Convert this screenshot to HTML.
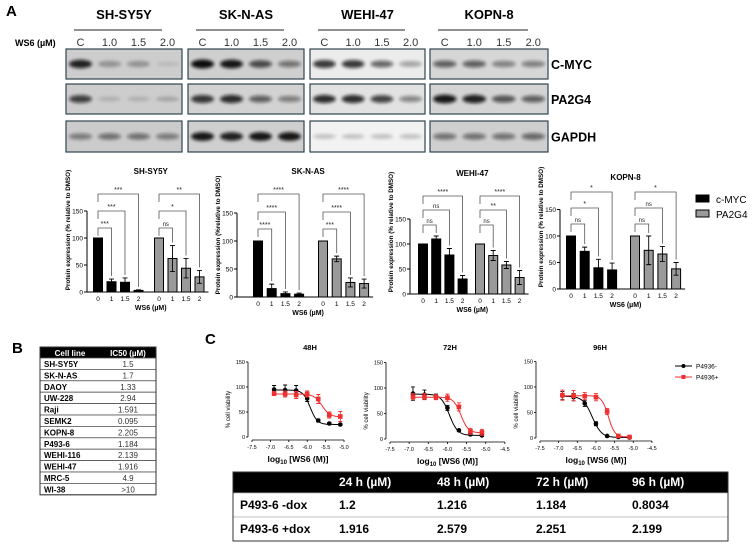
<!DOCTYPE html>
<html><head><meta charset="utf-8">
<style>
html,body{margin:0;padding:0;background:#fff;}
svg{display:block;font-family:"Liberation Sans",Arial,sans-serif;}
</style></head>
<body>
<svg id="fig" width="755" height="548" viewBox="0 0 755 548" xmlns="http://www.w3.org/2000/svg">
<defs>
<filter id="blur1" x="-20%" y="-100%" width="140%" height="300%"><feGaussianBlur stdDeviation="1.6"/></filter>
</defs>
<g id="panelA">
<text x="6" y="16" font-size="15" font-weight="bold">A</text>
<text x="15" y="46" font-size="9" font-weight="bold">WS6 (µM)</text>
</g>
<g id="blots"></g>
<g id="bars"></g>
<g id="panelB">
<text x="12" y="353" font-size="15" font-weight="bold">B</text>
</g>
<g id="panelC">
<text x="205" y="344" font-size="15" font-weight="bold">C</text>
</g>
</svg>
<script>
const NS="http://www.w3.org/2000/svg";
function mk(parent,tag,attrs,text){const e=document.createElementNS(NS,tag);for(const k in attrs)e.setAttribute(k,attrs[k]);if(text!==undefined)e.textContent=text;parent.appendChild(e);return e;}

// ---------- Western blots ----------
const blotNames=["SH-SY5Y","SK-N-AS","WEHI-47","KOPN-8"];
const laneLabels=["C","1.0","1.5","2.0"];
const proteinLabels=["C-MYC","PA2G4","GAPDH"];
const blotBoxesX=[[66,182],[188,304],[310,425],[430,548]];
const blotRowsY=[[49,79],[84,114],[121,152]];
const blotBg=[["#cdcdcd","#cdcdcd","#cbcbcb"],["#cfcfcf","#d2d2d2","#cfcfcf"],["#ececec","#e2e2e2","#f2f2f2"],["#d6d6d6","#d4d4d4","#cfcfcf"]];
const bandDark=[
 [[0.9,0.35,0.35,0.1],[0.75,0.15,0.15,0.2],[0.45,0.5,0.5,0.45]],
 [[1,0.95,0.7,0.5],[0.8,0.85,0.6,0.45],[0.95,0.9,0.95,0.95]],
 [[0.8,0.8,0.6,0.35],[0.85,0.85,0.75,0.45],[0.2,0.2,0.2,0.2]],
 [[0.6,0.6,0.45,0.45],[0.95,0.9,0.65,0.6],[0.5,0.5,0.5,0.55]]];
const blots=document.getElementById('blots');
blotNames.forEach((n,b)=>{
  const [x1,x2]=blotBoxesX[b];const w=x2-x1;
  const hdr=mk(blots,'text',{x:(x1+x2)/2,y:19,'font-size':13,'font-weight':'bold','text-anchor':'middle'},n);
  
  
  const ln=mk(blots,'line',{x1:x1+8,x2:x2-20,y1:30,y2:30,stroke:'#222','stroke-width':1});
  
  
  laneLabels.forEach((l,i)=>{
    const t=mk(blots,'text',{x:x1+(i+0.5)*w/4,y:46,'font-size':11,'text-anchor':'middle',fill:'#333'},l);
    
    
  });
  blotRowsY.forEach(([y1,y2],r)=>{
    const box=mk(blots,'rect',{x:x1,y:y1,width:w,height:y2-y1,fill:blotBg[b][r],stroke:'#2f4650','stroke-width':1.2});
    
    
    for(let i=0;i<4;i++){
      const d=bandDark[b][r][i];
      const cx=x1+(i+0.5)*w/4, cy=(y1+y2)/2;
      const band=mk(blots,'ellipse',{cx:cx,cy:cy,rx:w/8-3,ry:2+d*2.5,fill:'#111','fill-opacity':d,filter:'url(#blur1)'});
      
      
    }
  });
});
proteinLabels.forEach((p,r)=>{
  const t=mk(blots,'text',{x:551,y:(blotRowsY[r][0]+blotRowsY[r][1])/2+5,'font-size':12.5,'font-weight':'bold'},p);
  
  
});

// ---------- Bar charts ----------
const barTitles=["SH-SY5Y","SK-N-AS","WEHI-47","KOPN-8"];
const doseLabels=["0","1","1.5","2"];
const mycValues=[[100,19,18,3],[100,15,6,5],[100,110,78,30],[100,71,40,36]];
const mycErrors=[[0,5,8,1],[0,8,3,2],[0,6,13,7],[0,8,16,13]];
const pa2g4Values=[[100,62,44,28],[100,68,26,24],[100,77,58,33],[100,73,66,38]];
const pa2g4Errors=[[0,24,18,12],[0,5,8,8],[0,10,7,14],[0,27,14,12]];
const sigMyc=[["***","***","***"],["****","****","****"],["ns","ns","****"],["ns","*","*"]];
const sigPa=[["ns","*","**"],["***","****","****"],["ns","**","****"],["ns","ns","*"]];
const yTicks=[0,50,100,150];
const yTitles=["Protein expression (% relative to DMSO)","Protein expression (%relative to DMSO)","Protein expression (% relative to DMSO)","Protein expression (% relative to DMSO)"];
const chartAxisX=[87,237,410,560];
const chartY0=[292,297,294,289];
const chartPx50=[27,28,25,26.5];
const chartG1X=[98,258,423,571];
const chartG2X=[159,323,480,635];
const barStep=[13.5,13.7,13.2,13.7];
const titleY=[174,174,176,180];
const bracketY=[[228,211,194],[229,212,194],[225,210,196],[224,208,192]];
const barsG=document.getElementById('bars');
barTitles.forEach((name,c)=>{
  const g=mk(barsG,'g',{});
  
  
  const ax=chartAxisX[c],y0=chartY0[c];
  const yS=v=>y0-v/50*chartPx50[c];
  const xS=(grp,i)=>(grp?chartG2X[c]:chartG1X[c])+i*barStep[c];
  const xEnd=xS(1,3)+9;
  const tt=mk(g,'text',{x:(ax+xEnd)/2+3,y:titleY[c],'font-size':8,'font-weight':'bold','text-anchor':'middle'},name);
  
  
  const ya=mk(g,'line',{x1:ax,x2:ax,y1:yS(150),y2:y0,stroke:'#000','stroke-width':1});
  
  
  const xa=mk(g,'line',{x1:ax,x2:xEnd,y1:y0,y2:y0,stroke:'#000','stroke-width':1});
  
  
  yTicks.forEach(t=>{
    const tk=mk(g,'line',{x1:ax-3,x2:ax,y1:yS(t),y2:yS(t),stroke:'#000'});
    
    
    const tl=mk(g,'text',{x:ax-4,y:yS(t)+2.5,'font-size':6.5,'text-anchor':'end'},t);
    
    
  });
  const yt=mk(g,'text',{x:0,y:0,'font-size':6.3,'font-weight':'bold','text-anchor':'middle',transform:`translate(${ax-17},${y0-62}) rotate(-90)`},yTitles[c]);
  
  
  const xt=mk(g,'text',{x:(ax+xEnd)/2+3,y:y0+18,'font-size':7,'font-weight':'bold','text-anchor':'middle'},'WS6 (µM)');
  
  
  [[mycValues,mycErrors,'#000','myc',sigMyc],[pa2g4Values,pa2g4Errors,'#9a9a9a','pa2g4',sigPa]].forEach(([vals,errs,fill,key,sig],grp)=>{
    for(let i=0;i<4;i++){
      const v=vals[c][i],e=errs[c][i],cx=xS(grp,i);
      const r=mk(g,'rect',{x:cx-4.5,y:yS(v),width:9,height:y0-yS(v),fill:fill,stroke:'#000','stroke-width':1});
      
      
      if(e>0){
        const eb=mk(g,'path',{d:`M${cx},${yS(v-e)}V${yS(v+e)}M${cx-2.5},${yS(v+e)}H${cx+2.5}M${cx-2.5},${yS(v-e)}H${cx+2.5}`,stroke:'#000','stroke-width':0.9,fill:'none'});
        
        
      }
      const tl=mk(g,'text',{x:cx,y:y0+9,'font-size':6.5,'text-anchor':'middle'},doseLabels[i]);
      
      
    }
    for(let k=0;k<3;k++){
      const by=bracketY[c][k];const xa0=xS(grp,0),xb=xS(grp,k+1);
      const top=vals[c][k+1]+errs[c][k+1];
      const br=mk(g,'path',{d:`M${xa0},${Math.min(yS(104),by+8)}V${by}H${xb}V${yS(top)-3}`,stroke:'#555','stroke-width':0.8,fill:'none'});
      
      
      const st=mk(g,'text',{x:(xa0+xb)/2,y:by-2,'font-size':sig[c][k]==='ns'?6:7,'text-anchor':'middle',fill:'#222'},sig[c][k]);
      
      
    }
  });
});
const legendNames=["c-MYC","PA2G4"];
const legendFills=["#000","#9a9a9a"];
legendNames.forEach((n,i)=>{
  const y=199+i*15;
  const r=mk(barsG,'rect',{x:696,y:y-4,width:13,height:7,fill:legendFills[i],stroke:'#000','stroke-width':1});
  
  
  const t=mk(barsG,'text',{x:716,y:y+4,'font-size':10},n);
  
  
});

// ---------- Table B ----------
const cellLines=["SH-SY5Y","SK-N-AS","DAOY","UW-228","Raji","SEMK2","KOPN-8","P493-6","WEHI-116","WEHI-47","MRC-5","WI-38"];
const ic50s=["1.5","1.7","1.33","2.94","1.591","0.095","2.205","1.184","2.139","1.916","4.9",">10"];
const pB=document.getElementById('panelB');
const tx1=40,tx2=156,tDiv=100,tY=347,hH=11,rH=11.4;
const hb=mk(pB,'rect',{x:tx1,y:tY,width:tx2-tx1,height:hH,fill:'#000'});


[["Cell line",(tx1+tDiv)/2],["IC50 (µM)",(tDiv+tx2)/2]].forEach(([t,x])=>{
  const e=mk(pB,'text',{x:x,y:tY+9,'font-size':8,'font-weight':'bold',fill:'#fff','text-anchor':'middle'},t);
  
  
});
cellLines.forEach((cl,i)=>{
  const y=tY+hH+i*rH;
  const r=mk(pB,'rect',{x:tx1,y:y,width:tx2-tx1,height:rH,fill:'#fff',stroke:'#555','stroke-width':0.8});
  
  
  const a=mk(pB,'text',{x:tx1+4,y:y+9,'font-size':8,'font-weight':'bold'},cl);
  
  
  const b=mk(pB,'text',{x:(tDiv+tx2)/2,y:y+9,'font-size':8,'text-anchor':'middle',fill:'#333'},ic50s[i]);
  
  
});
mk(pB,'rect',{x:tx1,y:tY,width:tx2-tx1,height:hH+12*rH,fill:'none',stroke:'#333','stroke-width':1});

// ---------- Dose response curves ----------
const doseLogs=[-6.9,-6.6,-6.3,-6.0,-5.7,-5.4,-5.1];
const timeTitles=["48H","72H","96H"];
const minusVals=[[95,94,93,77,33,27,25],[89,87,83,61,17,9,7],[83,80,68,28,4,2,1]];
const minusErrs=[[8,10,10,6,3,2,2],[13,9,5,5,2,2,2],[8,7,6,4,2,1,1]];
const plusVals=[[87,86,84,86,76,44,41],[83,83,82,81,63,15,13],[84,83,82,80,52,4,2]];
const plusErrs=[[4,6,7,6,9,6,10],[6,6,5,7,8,6,6],[10,10,7,7,6,3,3]];
const minusFit=[[94,25,-5.92,4.5],[88,7,-5.95,4],[82,1,-6.1,3.5]];
const plusFit=[[86,40,-5.6,4],[82,12,-5.65,4.5],[83,2,-5.67,5]];
const xTickVals=[[-7.5,-7.0,-6.5,-6.0,-5.5,-5.0],[-7.5,-7.0,-6.5,-6.0,-5.5,-5.0,-4.5],[-7.5,-7.0,-6.5,-6.0,-5.5,-5.0,-4.5]];
const vTicks=[0,50,100,150];
const cX0=[252,390,540],cPxU=[36.8,38.3,37.3],cY0=[437,439,438],cPx100=[50,51,51];
const titleX=[310,450,600];
const pC=document.getElementById('panelC');
timeTitles.forEach((tt,c)=>{
  const g=mk(pC,'g',{});
  
  
  const xS=v=>cX0[c]+(v+7.5)*cPxU[c];
  const yS=v=>cY0[c]-v/100*cPx100[c];
  const ax=cX0[c]-4;
  const xmax=xTickVals[c][xTickVals[c].length-1];
  const t=mk(g,'text',{x:titleX[c],y:350,'font-size':7.5,'font-weight':'bold','text-anchor':'middle'},tt);
  
  
  const ya=mk(g,'line',{x1:ax,x2:ax,y1:yS(150),y2:cY0[c],stroke:'#000','stroke-width':0.8});
  
  
  const xa=mk(g,'line',{x1:xS(-7.5),x2:xS(xmax),y1:cY0[c]+3,y2:cY0[c]+3,stroke:'#000','stroke-width':0.8});
  
  
  vTicks.forEach(v=>{
    mk(g,'line',{x1:ax-2,x2:ax,y1:yS(v),y2:yS(v),stroke:'#000','stroke-width':0.8});
    const l=mk(g,'text',{x:ax-3,y:yS(v)+2,'font-size':5.5,'text-anchor':'end'},v);
    
    
  });
  xTickVals[c].forEach(v=>{
    mk(g,'line',{x1:xS(v),x2:xS(v),y1:cY0[c]+3,y2:cY0[c]+5,stroke:'#000','stroke-width':0.8});
    const l=mk(g,'text',{x:xS(v),y:cY0[c]+12,'font-size':5.5,'text-anchor':'middle'},v.toFixed(1));
    
    
  });
  const yl=mk(g,'text',{x:0,y:0,'font-size':6,'text-anchor':'middle',transform:`translate(${ax-18},${yS(55)}) rotate(-90)`},'% cell viability');
  
  
  const xl=mk(g,'text',{x:(xS(-7.5)+xS(xmax))/2,y:cY0[c]+25,'font-size':8.5,'font-weight':'bold','text-anchor':'middle'});
  
  
  xl.innerHTML='log<tspan font-size="6" dy="2">10</tspan><tspan dy="-2"> [WS6 (M)]</tspan>';
  [[minusVals,minusErrs,minusFit,'#000','p4936-minus','circle'],[plusVals,plusErrs,plusFit,'#f03030','p4936-plus','square']].forEach(([vals,errs,fit,col,key,shape])=>{
    const [top,bot,ic,h]=fit[c];
    let d='';
    for(let x=-6.95;x<=-5.05;x+=0.02){const y=bot+(top-bot)/(1+Math.pow(10,(x-ic)*h));d+=(d?'L':'M')+xS(x).toFixed(1)+','+yS(y).toFixed(1);}
    const p=mk(g,'path',{d:d,stroke:col,'stroke-width':1,fill:'none'});
    
    
    doseLogs.forEach((x,i)=>{
      const v=vals[c][i],e=errs[c][i],px=xS(x),py=yS(v);
      const eb=mk(g,'path',{d:`M${px},${yS(v-e)}V${yS(v+e)}M${px-2},${yS(v+e)}H${px+2}M${px-2},${yS(v-e)}H${px+2}`,stroke:col,'stroke-width':0.9,fill:'none'});
      
      
      const m=shape==='circle'?mk(g,'circle',{cx:px,cy:py,r:2.3,fill:col}):mk(g,'rect',{x:px-2.3,y:py-2.3,width:4.6,height:4.6,fill:col});
      
      
    });
  });
});
const curveLegend=["P4936-","P4936+"];
const curveLegendCols=["#000","#f03030"];
curveLegend.forEach((n,i)=>{
  const y=366+i*11;
  const l=mk(pC,'line',{x1:675,x2:692,y1:y,y2:y,stroke:curveLegendCols[i],'stroke-width':1});
  
  
  const m=i===0?mk(pC,'circle',{cx:683.5,cy:y,r:2,fill:curveLegendCols[i]}):mk(pC,'rect',{x:681.5,y:y-2,width:4,height:4,fill:curveLegendCols[i]});
  
  
  const t=mk(pC,'text',{x:696,y:y+2.5,'font-size':6.5},n);
  
  
});

// ---------- Table C ----------
const tcHeaders=["","24 h (µM)","48 h (µM)","72 h (µM)","96 h (µM)"];
const tcRowMinus=["P493-6 -dox","1.2","1.216","1.184","0.8034"];
const tcRowPlus=["P493-6 +dox","1.916","2.579","2.251","2.199"];
const tcColX=[240,339,437,536,632];
const cx1=233,cx2=728,cy=472;
const th=mk(pC,'rect',{x:cx1,y:cy,width:cx2-cx1,height:21,fill:'#000'});


tcHeaders.forEach((h,i)=>{
  const t=mk(pC,'text',{x:tcColX[i],y:cy+14,'font-size':12,'font-weight':'bold',fill:'#fff'},h);
  
  
});
[tcRowMinus,tcRowPlus].forEach((row,r)=>{
  const y=cy+21+r*24;
  const rr=mk(pC,'rect',{x:cx1,y:y,width:cx2-cx1,height:24,fill:'#fff',stroke:'#bbb','stroke-width':0.8});
  
  
  row.forEach((v,i)=>{
    const t=mk(pC,'text',{x:tcColX[i],y:y+16,'font-size':12,'font-weight':'bold'},v);
    
    
  });
});
mk(pC,'rect',{x:cx1,y:cy,width:cx2-cx1,height:69,fill:'none',stroke:'#333','stroke-width':1});
</script>
</body></html>
